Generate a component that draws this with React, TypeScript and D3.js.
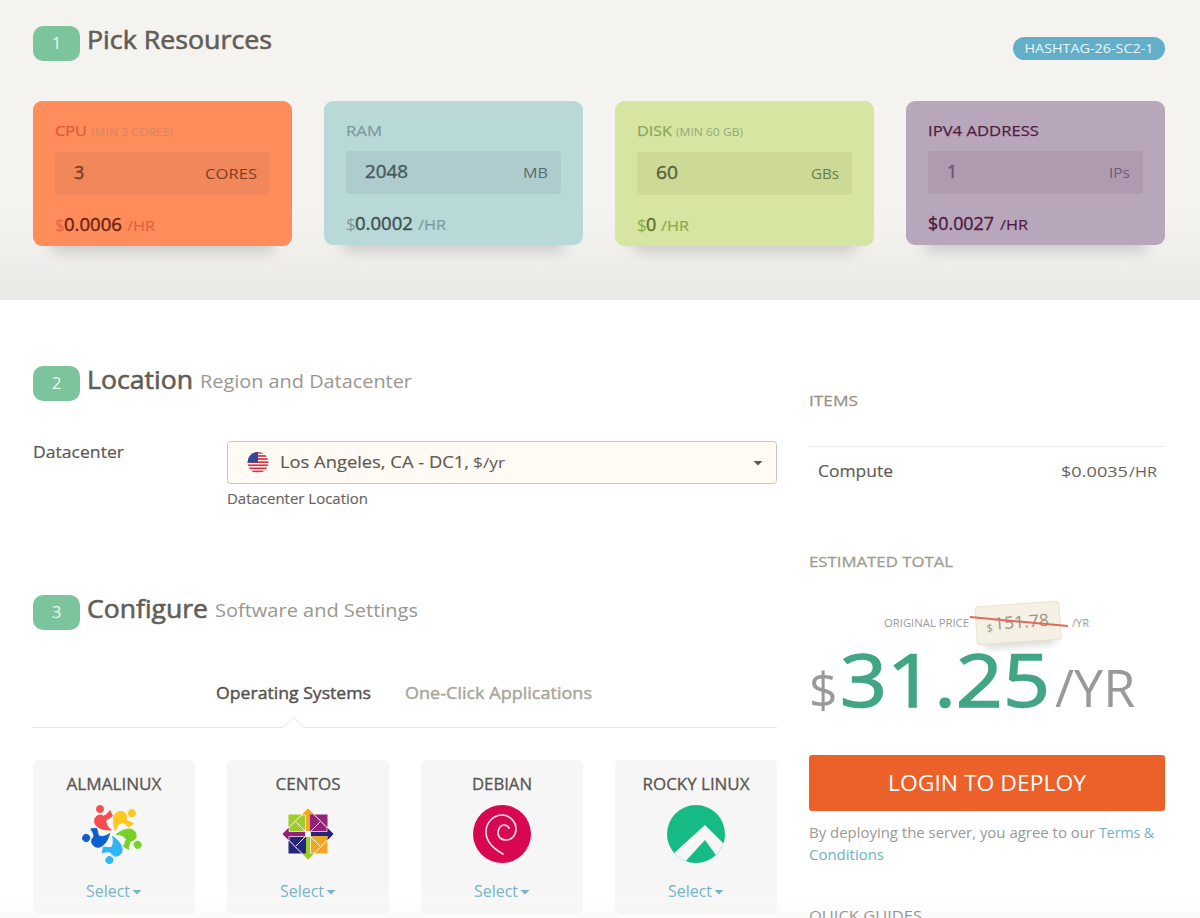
// server deploy form, drawn as one svg
import * as d3 from 'd3';

const FONT = '"Open Sans", "Noto Sans", sans-serif';

// resource cards
const resourceNames = ['CPU', 'RAM', 'DISK', 'IPV4 ADDRESS'];
const resourceNotes = ['(MIN 3 CORES)', '', '(MIN 60 GB)', ''];
const resourceValues = ['3', '2048', '60', '1'];
const resourceUnits = ['CORES', 'MB', 'GBs', 'IPs'];
const resourcePrices = ['0.0006', '0.0002', '0', '0.0027'];

// os cards
const osNames = ['ALMALINUX', 'CENTOS', 'DEBIAN', 'ROCKY LINUX'];

// card colours: background, label, note, input, value, unit, dollar, price
const cardColors = [
  ['#ff8c5b', '#dd5a38', '#d98560', '#f1875b', '#7c3b20', '#7c3f25', '#e4633d', '#6b2410'],
  ['#b9d8d8', '#7b9a9d', '#7b9a9d', '#aecccd', '#4b5a5c', '#5a6c6e', '#7b9a9d', '#3f5052'],
  ['#d6e5a2', '#8ca65f', '#98a878', '#ccd997', '#566438', '#6c7a4c', '#8aaa4c', '#5b7326'],
  ['#b8a7ba', '#4e1d3f', '#4e1d3f', '#ae9bb0', '#6a5570', '#6e5a74', '#4e1d3f', '#4e1d3f'],
];

// text widths measured from the page, the installed fonts run a bit different
const fit: Record<string, number> = {
  'Pick Resources': 185, Location: 106, 'Region and Datacenter': 212, Configure: 121,
  'Software and Settings': 203, Datacenter: 91, 'Los Angeles, CA - DC1,': 189, '$/yr': 32,
  'Datacenter Location': 141, ITEMS: 49, Compute: 75, '$0.0035': 67, 'ESTIMATED TOTAL': 144,
  'ORIGINAL PRICE': 85, '151.78': 55, '31.25': 210, 'LOGIN TO DEPLOY': 198,
  'By deploying the server, you agree to our': 286, 'Terms &': 55, Conditions: 75,
  'QUICK GUIDES': 113, 'Operating Systems': 155, 'One-Click Applications': 187,
  'HASHTAG-26-SC2-1': 129, CPU: 32, RAM: 36, DISK: 35, 'IPV4 ADDRESS': 111,
  '(MIN 3 CORES)': 82, '(MIN 60 GB)': 67, '2048': 43, '60': 22, CORES: 52, MB: 25, GBs: 28, IPs: 21,
  '0.0006': 58, '0.0002': 58, '$0.0027': 66, ALMALINUX: 95, CENTOS: 65, DEBIAN: 60, 'ROCKY LINUX': 107,
  Select: 44, '/HR': 28,
};

type LabelProps = {
  x: number;
  y: number;
  size: number;
  fill: string;
  anchor?: 'start' | 'middle' | 'end';
  heavy?: number; // thin outline, the fonts have no medium cut
  children: string;
};

const Label = ({ x, y, size, fill, anchor = 'start', heavy = 0, children }: LabelProps) => {
  const w = fit[children];
  return (
    <text
      x={x}
      y={y}
      fontSize={size}
      fill={fill}
      stroke={heavy ? fill : undefined}
      strokeWidth={heavy || undefined}
      textAnchor={anchor}
      textLength={w}
      lengthAdjust={w ? 'spacingAndGlyphs' : undefined}
    >
      {children}
    </text>
  );
};

const Badge = ({ y, n }: { y: number; n: string }) => (
  <g>
    <rect x={33} y={y} width={47} height={35} rx={10} fill="#7bc49c" />
    <Label x={56.5} y={y + 23} size={17} fill="#eef8f2" anchor="middle">{n}</Label>
  </g>
);

const Caret = ({ x, y, fill }: { x: number; y: number; fill: string }) => (
  <path d={`M${x - 4.5},${y - 2}h9l-4.5,4.5z`} fill={fill} />
);

const AlmaLogo = () => {
  const colors = ['#f94a4f', '#ffc81e', '#78d02a', '#2eb5f5', '#0c5fd0'];
  return (
    <g transform="translate(113,833)">
      {colors.map((c, i) => (
        <g key={c} transform={`rotate(${i * 72})`} fill={c} stroke={c} strokeWidth={0.8} strokeLinejoin="round">
          <circle cx={-13} cy={-24} r={3.6} />
          <path d="M-18.5,-12.5C-18,-17.5 -13,-19.5 -9.5,-17C-7,-17.5 -5,-20 -3,-22.5L-0.5,-17L-7,-13C-7.5,-9 -5,-5.5 -1.5,-3C-10,-2.5 -19,-5.5 -18.5,-12.5Z" />
        </g>
      ))}
    </g>
  );
};

const CentosLogo = () => {
  const squares = ['#9ccd2a', '#932279', '#efa724', '#262577'];
  const arrows = ['#efa724', '#262577', '#9ccd2a', '#932279'];
  return (
    <g transform="translate(308,834)">
      {squares.map((c, i) => (
        <g key={c} transform={`rotate(${i * 90})`}>
          <rect x={-19.5} y={-19.5} width={17.5} height={17.5} fill={c} />
          <path d="M-2,-2L-12,-12" stroke="#fff" strokeWidth={1} />
          <path d="M-19.5,-6L-6,-19.5" stroke="#fff" strokeWidth={1} />
          <path d="M0,-26L7,-19H2.5V-2.5H-2.5V-19H-7Z" fill={arrows[i]} stroke="#fff" strokeWidth={0.7} />
        </g>
      ))}
    </g>
  );
};

const DebianLogo = () => (
  <g transform="translate(502,834)">
    <circle r={29} fill="#d70751" />
    <path
      d="M1,20C-8,15 -16,8 -16,-2C-16,-12 -8,-19 0,-19C8,-19 14,-12 14,-5C14,2 9,6 4,6C-1,6 -4,3 -4,-1C-4,-6 -1,-9 2,-9C4,-9 6,-8 7,-6"
      fill="none"
      stroke="#f7dbe5"
      strokeWidth={1.7}
      strokeLinecap="round"
    />
  </g>
);

const RockyLogo = () => (
  <g transform="translate(696,834)">
    <clipPath id="rocky">
      <circle r={29} />
    </clipPath>
    <circle r={29} fill="#15ba84" />
    <path d="M9,-9L32,14L22,24L9,6L-13,30L-23,20Z" fill="#f6f6f6" clipPath="url(#rocky)" />
  </g>
);

const Flag = () => {
  const stripes = d3.range(7).map((i) => i);
  return (
    <g transform="translate(258,462.5)">
      <clipPath id="flag">
        <circle r={10.5} />
      </clipPath>
      <g clipPath="url(#flag)">
        <rect x={-11} y={-11} width={22} height={22} fill="#fff" />
        {stripes.map((i) => (
          <rect key={i} x={-11} y={-10.5 + i * 3.1} width={22} height={1.7} fill="#d8313f" />
        ))}
        <rect x={-11} y={-11} width={11} height={11} fill="#2f4a9a" />
      </g>
    </g>
  );
};

const logos = [AlmaLogo, CentosLogo, DebianLogo, RockyLogo];

export default function App() {
  // four cards across the full width
  const cardX = d3.scaleBand<string>().domain(resourceNames).range([33, 1165]).paddingInner(0.11);
  const osX = d3.scaleBand<string>().domain(osNames).range([33, 777]).paddingInner(0.165);

  return (
    <svg
      width={1200}
      height={918}
      viewBox="0 0 1200 918"
      style={{ position: 'absolute', left: 0, top: 0, fontFamily: FONT }}
    >
      <defs>
        <linearGradient id="top-bg" x1={0} x2={0} y1={0} y2={1}>
          <stop offset="0.7" stopColor="#f4f3f0" />
          <stop offset="1" stopColor="#ebe9e5" />
        </linearGradient>
        <linearGradient id="bottom-fade" x1={0} x2={0} y1={0} y2={1}>
          <stop offset="0" stopColor="#fff" stopOpacity={0} />
          <stop offset="1" stopColor="#f4f3f0" stopOpacity={0.4} />
        </linearGradient>
        <filter id="blur" x="-20%" y="-60%" width="140%" height="220%">
          <feGaussianBlur stdDeviation={7} />
        </filter>
        <filter id="ticket-blur" x="-30%" y="-50%" width="160%" height="200%">
          <feGaussianBlur stdDeviation={4} />
        </filter>
      </defs>

      <rect width={1200} height={918} fill="#fff" />
      <rect width={1200} height={300} fill="url(#top-bg)" />

      {/* step 1 */}
      <Badge y={26} n="1" />
      <Label x={87} y={49} size={26} fill="#625d57" heavy={0.6}>Pick Resources</Label>
      <rect x={1013} y={37} width={152} height={23} rx={11.5} fill="#63afc9" />
      <Label x={1089} y={52.5} size={13} fill="#eef7fa" anchor="middle">HASHTAG-26-SC2-1</Label>

      {resourceNames.map((name, i) => {
        const x = cardX(name) as number;
        const w = cardX.bandwidth();
        const dy = i % 2 === 0 ? 1 : 0;
        const [bg, label, note, input, value, unit, dollar, price] = cardColors[i];
        return (
          <g key={name}>
            <rect x={x + 18} y={200 + dy} width={w - 36} height={52} rx={8} fill="#000" opacity={0.14} filter="url(#blur)" />
            <rect x={x} y={101} width={w} height={144 + dy} rx={9} fill={bg} />
            <Label x={x + 22} y={136} size={15} fill={label} heavy={0.25}>{name}</Label>
            {resourceNotes[i] && (
              <Label x={x + (i === 0 ? 58 : 61)} y={136} size={11} fill={note}>{resourceNotes[i]}</Label>
            )}
            <rect x={x + 22} y={151 + dy} width={215} height={43} rx={3} fill={input} />
            <Label x={x + 41} y={178 + dy} size={18} fill={value} heavy={0.4}>{resourceValues[i]}</Label>
            <Label x={x + 224} y={178 + dy} size={15} fill={unit} anchor="end">{resourceUnits[i]}</Label>
            {i === 3 ? (
              <Label x={x + 22} y={230} size={18} fill={price} heavy={0.4}>{'$' + resourcePrices[i]}</Label>
            ) : (
              <g>
                <Label x={x + 22} y={230 + dy} size={17} fill={dollar}>$</Label>
                <Label x={x + 31} y={230 + dy} size={18} fill={price} heavy={0.4}>{resourcePrices[i]}</Label>
              </g>
            )}
            <Label x={x + 31 + (i === 2 ? 15 : 63)} y={230 + dy} size={15} fill={dollar} heavy={0.2}>/HR</Label>
          </g>
        );
      })}

      {/* step 2 */}
      <Badge y={366} n="2" />
      <Label x={87} y={389} size={26} fill="#625d57" heavy={0.6}>Location</Label>
      <Label x={200} y={388} size={19} fill="#9a9791">Region and Datacenter</Label>
      <Label x={33} y={458} size={17} fill="#5c5852" heavy={0.2}>Datacenter</Label>
      <rect x={227.5} y={441.5} width={549} height={42} rx={3} fill="#fffaf3" stroke="#c9c5b8" />
      <Flag />
      <Label x={280} y={468} size={17} fill="#5c5852" heavy={0.15}>Los Angeles, CA - DC1,</Label>
      <Label x={473} y={468} size={14} fill="#5c5852">$/yr</Label>
      <Caret x={758} y={463} fill="#5c5852" />
      <Label x={227} y={504} size={14} fill="#67635d" heavy={0.15}>Datacenter Location</Label>

      {/* step 3 */}
      <Badge y={595} n="3" />
      <Label x={87} y={618} size={26} fill="#625d57" heavy={0.6}>Configure</Label>
      <Label x={215} y={617} size={19} fill="#9a9791">Software and Settings</Label>
      <Label x={216} y={699} size={17} fill="#55514b" heavy={0.4}>Operating Systems</Label>
      <Label x={405} y={699} size={17} fill="#a8a498" heavy={0.4}>One-Click Applications</Label>
      <path d="M33,727.5H283L293.5,717L304,727.5H777" fill="none" stroke="#e8e6e0" />

      {osNames.map((name, i) => {
        const x = osX(name) as number;
        const w = osX.bandwidth();
        const Logo = logos[i];
        return (
          <g key={name}>
            <rect x={x} y={760} width={w} height={154} rx={5} fill="#f6f6f6" />
            <Label x={x + w / 2} y={790} size={16} fill="#5a5651" anchor="middle" heavy={0.3}>{name}</Label>
            <Logo />
            <Label x={x + w / 2 - 6} y={897} size={16} fill="#6fb0c6" anchor="middle">Select</Label>
            <Caret x={x + w / 2 + 23} y={892} fill="#6fb0c6" />
          </g>
        );
      })}

      {/* right column */}
      <Label x={809} y={406} size={15} fill="#98948a" heavy={0.3}>ITEMS</Label>
      <line x1={809} x2={1165} y1={446.5} y2={446.5} stroke="#ececec" />
      <Label x={818} y={477} size={17} fill="#5e5a54" heavy={0.15}>Compute</Label>
      <Label x={1061} y={477} size={15} fill="#67635d">$0.0035</Label>
      <Label x={1129} y={477} size={15} fill="#67635d">/HR</Label>

      <Label x={809} y={567} size={15} fill="#a09c92" heavy={0.3}>ESTIMATED TOTAL</Label>
      <Label x={884} y={627} size={11} fill="#9a9a9a">ORIGINAL PRICE</Label>
      <g transform="rotate(-4 1018 622)">
        <rect x={984} y={620} width={70} height={26} fill="#000" opacity={0.16} filter="url(#ticket-blur)" />
        <rect x={976} y={604} width={84} height={38} rx={3} fill="#f5f0e4" stroke="#e8e2d2" />
        <Label x={986} y={630} size={11} fill="#9a948a">$</Label>
        <Label x={994} y={628} size={17} fill="#9a948a">151.78</Label>
      </g>
      <line x1={970} y1={617} x2={1068} y2={626} stroke="#e2695e" strokeWidth={2} />
      <Label x={1072} y={627} size={11} fill="#9a9a9a">/YR</Label>

      <Label x={809} y={708} size={50} fill="#999">$</Label>
      <Label x={840} y={707} size={74} fill="#42a583" heavy={1.5}>31.25</Label>
      <Label x={1055} y={707} size={52} fill="#999">/YR</Label>

      <rect x={809} y={755} width={356} height={56} rx={3} fill="#ec6029" />
      <Label x={987} y={791} size={22} fill="#fff" anchor="middle">LOGIN TO DEPLOY</Label>
      <Label x={809} y={838} size={15} fill="#999">By deploying the server, you agree to our</Label>
      <Label x={1099} y={838} size={15} fill="#6fb0c6">Terms &</Label>
      <Label x={809} y={860} size={15} fill="#6fb0c6">Conditions</Label>
      <Label x={809} y={921} size={15} fill="#66625c">QUICK GUIDES</Label>

      <rect y={888} width={1200} height={30} fill="url(#bottom-fade)" />
    </svg>
  );
}
